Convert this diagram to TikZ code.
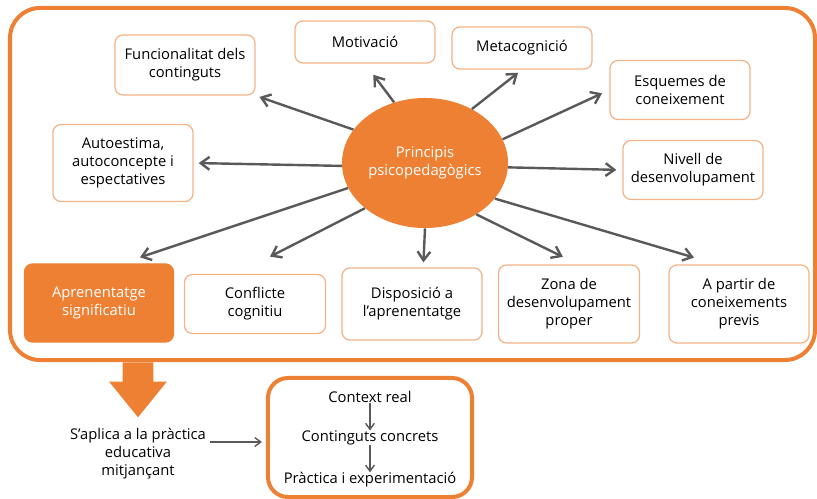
\documentclass[tikz,border=0pt]{standalone}
\usepackage{fontspec}
\setmainfont{Open Sans}
\usetikzlibrary{shapes, arrows.meta, positioning}

\definecolor{ppor}{RGB}{238,128,52}
\definecolor{pplight}{RGB}{245,180,135}
\definecolor{ppgray}{RGB}{89,89,89}

\begin{document}
\begin{tikzpicture}[x=0.025cm, y=-0.025cm, font=\fontsize{10.5}{12.8}\selectfont,
    pbox/.style={draw=pplight, line width=0.9pt, fill=white, rounded corners=0.2cm, align=center, minimum width=3.5cm, inner sep=2pt},
    ray/.style={draw=ppgray, line width=0.06cm, -{Straight Barb[length=0.22cm, width=0.32cm]}},
    flowarr/.style={draw=ppgray, line width=0.035cm, -{Straight Barb[length=0.15cm, width=0.22cm]}}];

\useasboundingbox (0,0) rectangle (817,499);

% outer frame

\draw[ppor, line width=0.1cm, rounded corners=0.75cm] (10,8) rectangle (815,360);

% centre and the boxes round it

\node[ellipse, fill=ppor, text=white, inner sep=0pt, minimum width=4.15cm, minimum height=3.25cm, align=center] (princ) at (425,163) {Principis\\psicopedagògics};

\node[pbox, minimum height=1.5cm] (funcional) at (185,65) {Funcionalitat dels\\continguts};
\node[pbox, minimum height=1.05cm] (motiv) at (365,42) {Motivació};
\node[pbox, minimum height=1.05cm] (meta) at (522,48) {Metacognició};
\node[pbox, minimum height=1.475cm] (esquemes) at (680,90) {Esquemes de\\coneixement};
\node[pbox, minimum height=1.475cm] (nivell) at (693,170) {Nivell de\\desenvolupament};
\node[pbox, minimum height=1.925cm] (autoest) at (123,163) {Autoestima,\\autoconcepte i\\espectatives};

% bottom row

\node[pbox, draw=ppor, fill=ppor, text=white, minimum width=3.725cm, minimum height=1.95cm] (aprsig) at (99,303) {Aprenentatge\\significatiu};
\node[pbox, minimum width=3.525cm, minimum height=1.475cm] (conflicte) at (255,304) {Conflicte\\cognitiu};
\node[pbox, minimum height=1.8cm] (disposicio) at (412,304) {Disposició a\\l’aprenentatge};
\node[pbox, minimum width=3.525cm, minimum height=1.95cm] (zona) at (569,304) {Zona de\\desenvolupament\\proper};
\node[pbox, minimum height=1.95cm] (previs) at (739,304) {A partir de\\coneixements\\previs};

% arrows

\draw[ray, shorten >=0.1cm] (princ.155) -- (funcional.south east);
\draw[ray, shorten >=0.35cm] (princ.117) -- (motiv.south);
\draw[ray, shorten >=0.125cm] (princ.49) -- (meta.south);
\draw[ray, shorten >=0.2cm] (princ.17) -- (esquemes.west);
\draw[ray, shorten >=0.15cm] (princ.-3) -- (nivell.west);
\draw[ray, shorten >=0.125cm] (princ.182) -- (autoest.east);
\draw[ray, shorten >=0.475cm] (princ.198) -- (aprsig.60);
\draw[ray, shorten >=0.95cm] (princ.217) -- (conflicte.122);
\draw[ray, shorten >=0.125cm] (princ.270) -- (disposicio.73);
\draw[ray, shorten >=0.425cm] (princ.315) -- (zona.77);
\draw[ray, shorten >=0.6cm] (princ.333) -- (previs.119);

% lower part

\node[single arrow, fill=ppor, rotate=-90, anchor=tail, inner xsep=0pt, inner ysep=0.375cm, minimum height=1.375cm, minimum width=1.425cm, single arrow head extend=0.3375cm, single arrow head indent=0pt, single arrow tip angle=78] (down) at (138,362) {};

\node[align=center] (aplica) at (138,454) {S’aplica a la pràctica\\educativa\\mitjançant};
\coordinate (aplend) at (210,442);

\node[draw=ppor, line width=0.1cm, rounded corners=0.5cm, minimum width=5.1cm, minimum height=2.975cm] (practbox) at (370,437.5) {};
\node[inner sep=0pt] (context) at (370,397) {Context real};
\node[inner sep=0pt] (concrets) at (370,438) {Continguts concrets};
\node[inner sep=0pt] (experim) at (370,480) {Pràctica i experimentació};

\draw[flowarr, shorten >=0.1cm] (aplend) -- (aplend -| practbox.west);
\draw[flowarr] (context) -- (concrets);
\draw[flowarr] (concrets) -- (experim);

\end{tikzpicture}
\end{document}
